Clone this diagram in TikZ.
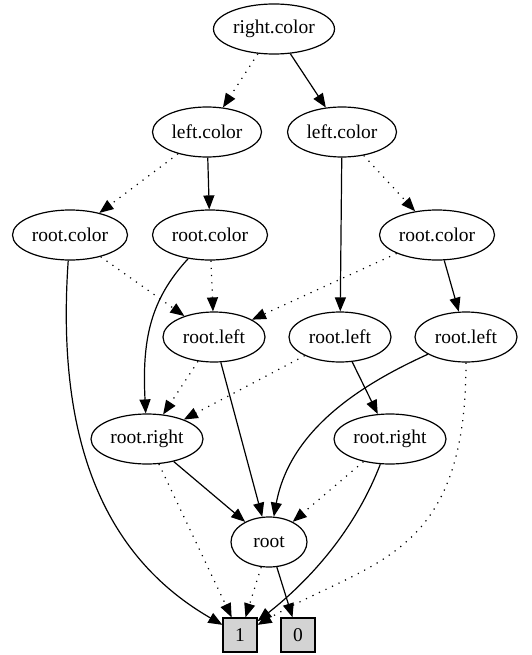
\documentclass[tikz,border=0pt]{standalone}
\usepackage{fontspec}
\setmainfont{Liberation Serif}
\usepackage{xcolor}
\usepackage{tikz}
\usetikzlibrary{shapes.geometric}
\usetikzlibrary{arrows.meta}

\definecolor{leafgray}{HTML}{D3D3D3}

\tikzset{
    bdd/.style={draw, ellipse, line width=1.2pt, minimum height=50pt, inner sep=0pt,
        font=\fontsize{19.5}{23}\selectfont},
    leaf/.style={draw, rectangle, fill=leafgray, line width=1.2pt, minimum size=34pt,
        inner sep=0pt, font=\fontsize{19.5}{23}\selectfont},
    hi/.style={-{Triangle[length=14pt,width=11pt]}, line width=1.2pt},
    lo/.style={hi, dash pattern=on 1.2pt off 6pt},
}

\begin{document}
\begin{tikzpicture}[x=1pt, y=-1pt]
            \useasboundingbox (0, 0) rectangle (532, 655);

            \node[bdd, minimum width=121pt] (rc) at (274, 29) {right.color};

            \foreach \i/\x in {0/207, 1/342} {
                \node[bdd, minimum width=109pt] (lc\i) at (\x, 132) {left.color};
            }
            \foreach \i/\x in {0/70, 1/210, 2/437} {
                \node[bdd, minimum width=115pt] (oc\i) at (\x, 235) {root.color};
            }
            \foreach \i/\x in {0/214, 1/340, 2/466} {
                \node[bdd, minimum width=102pt] (ol\i) at (\x, 337) {root.left};
            }
            \foreach \i/\x in {0/147, 1/390} {
                \node[bdd, minimum width=112pt] (or\i) at (\x, 439) {root.right};
            }

            \node[bdd, minimum width=76pt] (o) at (269, 542) {root};

            \node[leaf] (one) at (240, 635) {1};
            \node[leaf] (zero) at (298, 635) {0};

            % high edges
            \foreach \a/\b in {rc/lc1, lc0/oc1, lc1/ol1, oc2/ol2, ol0/o, ol1/or1, or0/o, o/zero} {
                \draw[hi] (\a) to (\b);
            }

            % low edges
            \foreach \a/\b in {rc/lc0, lc0/oc0, lc1/oc2, oc0/ol0, oc1/ol0, oc2/ol0,
                               ol0/or0, ol1/or0, or0/one, or1/o, o/one} {
                \draw[lo] (\a) to (\b);
            }

            \draw[hi] (oc0) .. controls (55, 450) and (110, 560) .. (one);
            \draw[hi] (oc1) .. controls (150, 300) and (142, 340) .. (or0);
            \draw[hi] (ol2) .. controls (360, 385) and (290, 430) .. (o);
            \draw[hi] (or1) .. controls (355, 530) and (310, 580) .. (one);
            \draw[lo] (ol2) .. controls (466, 560) and (370, 560) .. (one);
        \end{tikzpicture}
\end{document}
